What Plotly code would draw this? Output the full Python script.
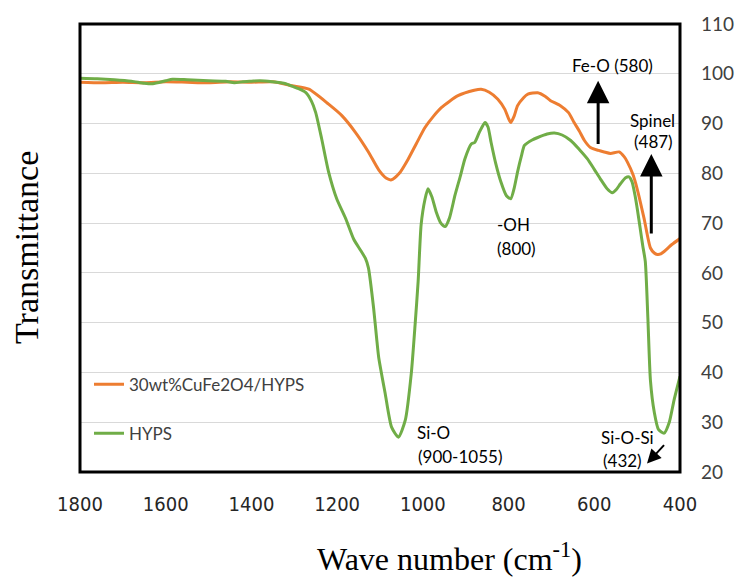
import plotly.graph_objects as go

# ---- data ----
wn_cufe = [1800, 1750, 1700, 1650, 1600, 1550, 1500, 1450, 1400, 1350, 1305, 1266, 1220, 1189, 1157,
           1127, 1103, 1085, 1073, 1055, 1034, 1015, 995, 975, 957, 918, 880, 864, 845, 825, 809, 800,
           795, 787, 779, 765, 755, 732, 715, 702, 679, 660, 647, 635, 623, 609, 590, 577, 562, 542,
           530, 523, 510, 500, 484, 469, 460, 453, 445, 437, 419, 400]
t_cufe = [98.3, 98.2, 98.3, 98.2, 98.4, 98.3, 98.2, 98.4, 98.3, 98.4, 97.6, 96.9, 93.9, 91.6, 88.2,
          84.3, 80.7, 79.0, 78.7, 80.0, 82.9, 86.0, 89.2, 91.5, 93.2, 95.6, 96.7, 96.9, 96.3, 94.9,
          92.9, 91.0, 90.2, 91.5, 93.6, 95.2, 95.9, 96.2, 95.5, 94.6, 93.6, 92.2, 90.2, 88.5, 86.6,
          85.2, 84.6, 84.3, 84.0, 84.3, 83.3, 82.3, 79.8, 76.9, 71.0, 65.0, 64.0, 63.7, 63.8, 64.3,
          65.7, 66.9]

wn_hyps = [1800, 1760, 1720, 1680, 1650, 1630, 1600, 1584, 1550, 1500, 1460, 1440, 1420, 1400, 1380,
           1352, 1320, 1305, 1290, 1273, 1260, 1250, 1236, 1220, 1201, 1180, 1161, 1145, 1134, 1127,
           1115, 1108, 1103, 1088, 1073, 1057, 1041, 1027, 1018, 1011, 1004, 995, 988, 979, 969, 958,
           948, 938, 925, 912, 902, 887, 879, 868, 855, 848, 841, 830, 818, 805, 795, 787, 779, 770,
           763, 745, 732, 710, 693, 675, 655, 635, 616, 600, 586, 570, 558, 548, 539, 527, 519, 512,
           505, 499, 493, 487, 481, 475, 469, 460, 450, 437, 425, 414, 400]
t_hyps = [99.1, 99.0, 98.8, 98.5, 98.1, 98.0, 98.6, 98.9, 98.8, 98.6, 98.5, 98.2, 98.4, 98.5, 98.6,
          98.4, 98.0, 97.5, 97.0, 96.2, 94.5, 92.2, 86.9, 80.3, 74.9, 70.9, 66.7, 64.5, 62.9, 61.0,
          53.0, 47.0, 43.0, 35.8, 29.0, 27.0, 30.4, 39.8, 49.7, 58.3, 69.7, 74.8, 76.9, 75.3, 72.3,
          70.0, 69.3, 71.0, 75.6, 79.6, 82.9, 85.9, 86.2, 88.3, 90.2, 89.3, 86.3, 82.0, 78.3, 75.5,
          74.9, 77.0, 80.3, 83.5, 85.6, 86.7, 87.2, 87.9, 88.1, 87.7, 86.6, 84.8, 82.9, 80.8, 78.9,
          76.9, 76.1, 76.8, 77.9, 79.1, 79.3, 78.3, 75.6, 72.5, 69.0, 65.5, 62.3, 51.0, 38.4, 32.0,
          28.5, 27.8, 30.0, 34.4, 39.2]

series_names = ["30wt%CuFe2O4/HYPS", "HYPS"]
series_colors = ["#ED7D31", "#70AD47"]
x_ticks = [1800, 1600, 1400, 1200, 1000, 800, 600, 400]
y_ticks = [20, 30, 40, 50, 60, 70, 80, 90, 100, 110]

SANS = "Lato, 'Open Sans', sans-serif"
SERIF = "'Liberation Serif', 'Times New Roman', serif"

fig = go.Figure()
fig.add_trace(go.Scatter(x=wn_cufe, y=t_cufe, mode="lines", name=series_names[0],
                         line=dict(color=series_colors[0], width=3, shape="spline", smoothing=0.6),
                         legendgroup="a"))
fig.add_trace(go.Scatter(x=wn_hyps, y=t_hyps, mode="lines", name=series_names[1],
                         line=dict(color=series_colors[1], width=3, shape="spline", smoothing=0.6),
                         legendgroup="b"))

fig.update_layout(
    width=746, height=581,
    margin=dict(l=80, r=63, t=21, b=109),
    paper_bgcolor="white", plot_bgcolor="white",
    showlegend=True,
    legend=dict(x=0.015, y=0.235, xanchor="left", yanchor="top", bgcolor="rgba(0,0,0,0)",
                font=dict(family=SANS, size=17, color="#404040"), tracegroupgap=24,
                itemwidth=30),
    xaxis=dict(range=[1800, 400], tickvals=x_ticks, showgrid=False, zeroline=False,
               showline=False, ticks="", ticklabelstandoff=18,
               tickfont=dict(family="'Liberation Sans Narrow', 'DejaVu Sans Condensed', sans-serif",
                             size=20, color="#262626")),
    yaxis=dict(range=[20, 110], tickvals=y_ticks, side="right", showgrid=True,
               gridcolor="#D9D9D9", gridwidth=1, zeroline=False, showline=False, ticks="",
               ticklabelstandoff=20,
               tickfont=dict(family=SANS, size=19, color="#404040")),
)

# frame
fig.add_shape(type="rect", xref="paper", yref="paper", x0=0, x1=1, y0=0, y1=1,
              line=dict(color="black", width=3), layer="above")

# axis titles
fig.add_annotation(text="Wave number (cm<sup>-1</sup>)", xref="paper", yref="paper",
                   x=0.615, y=-0.19, xanchor="center", yanchor="middle", showarrow=False,
                   font=dict(family=SERIF, size=32, color="black"))
fig.add_annotation(text="Transmittance", xref="paper", yref="paper", x=-0.09, y=0.50,
                   xanchor="center", yanchor="middle", textangle=-90, showarrow=False,
                   font=dict(family=SERIF, size=34, color="black"))

# peak labels
lab_font = dict(family=SANS, size=17, color="black")
labels = [
    ("Fe-O (580)", 558, 101.6, "center"),
    ("Spinel", 465, 90.6, "center"),
    ("(487)", 463, 86.4, "center"),
    ("-OH", 832, 69.7, "left"),
    ("(800)", 832, 65.0, "left"),
    ("Si-O", 1018, 28.0, "left"),
    ("(900-1055)", 1016, 23.2, "left"),
    ("Si-O-Si", 523, 27.0, "center"),
    ("(432)", 535, 22.4, "center"),
]
for t, x, y, xa in labels:
    fig.add_annotation(text=t, x=x, y=y, xref="x", yref="y", xanchor=xa, yanchor="middle",
                       showarrow=False, font=lab_font)

# arrows
arrows = [
    (591, 98.6, 591, 85.6, 3, 1.5),
    (467, 83.9, 467, 67.6, 3, 1.5),
    (477, 21.7, 434, 25.7, 2, 1.4),
]
for x, y, ax, ay, w, s in arrows:
    fig.add_annotation(text="", x=x, y=y, ax=ax, ay=ay, xref="x", yref="y", axref="x", ayref="y",
                       showarrow=True, arrowhead=2, arrowsize=s, arrowwidth=w, arrowcolor="black")

fig.write_html("out.html")
